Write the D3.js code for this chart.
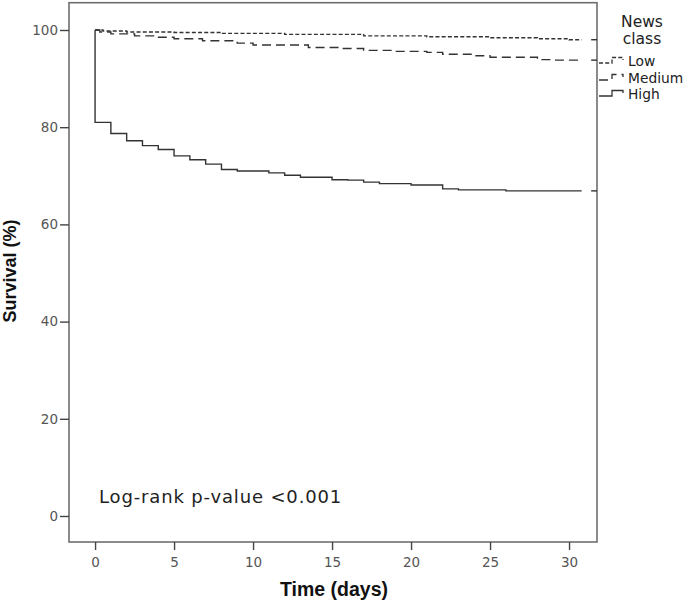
<!DOCTYPE html>
<html>
<head>
<meta charset="utf-8">
<script src="https://cdn.jsdelivr.net/npm/d3@7"></script>
<style>
  html, body { margin: 0; padding: 0; background: #fff; }
  svg { display: block; font-family: "DejaVu Sans", "Liberation Sans", sans-serif; }
</style>
</head>
<body>
<svg id="chart" width="685" height="603"></svg>
<script>
// ---- Data ----
const xTicks = [0, 5, 10, 15, 20, 25, 30];
const yTicks = [0, 20, 40, 60, 80, 100];

// Step functions: value holds from time[i] until time[i+1]
const highTime = [0, 0, 1, 2, 3, 4, 5, 6, 7, 8, 9, 11, 12, 13, 15, 16, 17, 18, 20, 22, 23, 26, 30.8];
const highSurv = [100, 81.0, 78.7, 77.2, 76.2, 75.4, 74.1, 73.3, 72.4, 71.3, 71.0, 70.6, 70.1, 69.7, 69.2, 69.1, 68.7, 68.4, 68.1, 67.3, 67.1, 66.9, 66.9];

const mediumTime = [0, 0.3, 1, 2.5, 3.7, 5, 6.8, 9, 10, 13.5, 15.5, 17, 19, 21, 22, 24, 25, 28, 29, 30.8];
const mediumSurv = [100, 99.6, 99.2, 98.8, 98.5, 98.2, 97.8, 97.3, 96.9, 96.4, 96.2, 95.8, 95.6, 95.4, 95.0, 94.7, 94.4, 93.9, 93.8, 93.8];

const lowTime = [0, 0.5, 2, 5, 8, 12, 17, 21, 25, 28, 30, 30.8];
const lowSurv = [100, 99.8, 99.6, 99.5, 99.3, 99.1, 98.8, 98.6, 98.4, 98.2, 98.0, 98.0];

const censorTime = 31.4;
const seriesNames = ["Low", "Medium", "High"];
const legendTitle = ["News", "class"];
const annotation = "Log-rank p-value <0.001";

// ---- Chart ----
const svg = d3.select("#chart");
const frame = { left: 69, right: 597, top: 2.7, bottom: 542 };
const x = d3.scaleLinear().domain([-1.65, 31.77]).range([frame.left, frame.right]);
const y = d3.scaleLinear().domain([0, 100]).range([516, 30]);

const axisColor = "#6e6e6e";
const lineColor = "#333";

// frame
svg.append("rect")
  .attr("x", frame.left).attr("y", frame.top)
  .attr("width", frame.right - frame.left).attr("height", frame.bottom - frame.top)
  .attr("fill", "none").attr("stroke", axisColor).attr("stroke-width", 1.6);

// y axis
const yAxis = d3.axisLeft(y).tickValues(yTicks).tickSize(9).tickPadding(2);
const gy = svg.append("g").attr("transform", `translate(${frame.left},0)`).call(yAxis);
gy.select(".domain").remove();
gy.selectAll(".tick line").attr("stroke", "#444").attr("stroke-width", 1.4);
gy.selectAll(".tick text").attr("fill", "#555").attr("font-size", 13.5)
  .attr("font-family", "DejaVu Sans, sans-serif");

// x axis
const xAxis = d3.axisBottom(x).tickValues(xTicks).tickSize(8).tickPadding(7);
const gx = svg.append("g").attr("transform", `translate(0,${frame.bottom})`).call(xAxis);
gx.select(".domain").remove();
gx.selectAll(".tick line").attr("stroke", "#444").attr("stroke-width", 1.4);
gx.selectAll(".tick text").attr("fill", "#555").attr("font-size", 13.5)
  .attr("font-family", "DejaVu Sans, sans-serif");

// axis titles
svg.append("text")
  .attr("x", x(15) + 2).attr("y", 596)
  .attr("text-anchor", "middle").attr("font-weight", "bold").attr("font-size", 19.5)
  .attr("font-family", "Liberation Sans, sans-serif")
  .attr("fill", "#111").text("Time (days)");
svg.append("text")
  .attr("transform", `translate(16,271) rotate(-90)`)
  .attr("text-anchor", "middle").attr("font-weight", "bold").attr("font-size", 18)
  .attr("font-family", "Liberation Sans, sans-serif")
  .attr("fill", "#111").text("Survival (%)");

// curves
const line = d3.line().x(d => x(d[0])).y(d => y(d[1])).curve(d3.curveStepAfter);
const series = [
  { name: "Low", time: lowTime, surv: lowSurv, dash: "4,2.2" },
  { name: "Medium", time: mediumTime, surv: mediumSurv, dash: "9,5" },
  { name: "High", time: highTime, surv: highSurv, dash: null }
];
series.forEach(s => {
  const pts = s.time.map((t, i) => [t, s.surv[i]]);
  const p = svg.append("path").attr("d", line(pts))
    .attr("fill", "none").attr("stroke", lineColor).attr("stroke-width", 1.4);
  if (s.dash) p.attr("stroke-dasharray", s.dash);
  // censor marks at the right edge
  const last = s.surv[s.surv.length - 1];
  svg.append("line")
    .attr("x1", x(censorTime)).attr("x2", x(x.domain()[1]))
    .attr("y1", y(last)).attr("y2", y(last))
    .attr("stroke", lineColor).attr("stroke-width", 1.4);
});

// annotation
svg.append("text").attr("x", 99).attr("y", 503)
  .attr("font-size", 18).attr("letter-spacing", 0.85).attr("fill", "#222").text(annotation);

// legend
const lg = svg.append("g");
legendTitle.forEach((t, i) => {
  lg.append("text").attr("x", 642).attr("y", 27 + i * 16.5)
    .attr("text-anchor", "middle").attr("font-size", 15.5).attr("fill", "#222").text(t);
});
const legendBase = [66, 83, 99];
series.forEach((s, i) => {
  const by = legendBase[i] - 3;
  const pts = [[599, by], [612, by], [612, by - 5.5], [623, by - 5.5], [623, by - 3]];
  const p = lg.append("path").attr("d", d3.line()(pts))
    .attr("fill", "none").attr("stroke", lineColor).attr("stroke-width", 1.3);
  if (s.dash) p.attr("stroke-dasharray", s.dash);
  lg.append("text").attr("x", 628).attr("y", legendBase[i])
    .attr("font-size", 13.8).attr("fill", "#222").text(s.name);
});
</script>
</body>
</html>
